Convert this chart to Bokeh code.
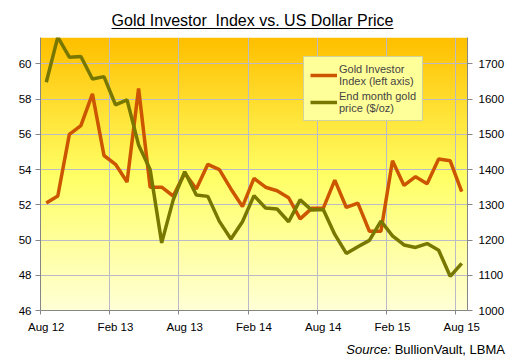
import numpy as np
from bokeh.plotting import figure
from bokeh.layouts import column
from bokeh.models import (Range1d, LinearAxis, FixedTicker, Legend, LegendItem, Div)
from bokeh.embed import file_html
from bokeh.resources import INLINE

# ---- data -------------------------------------------------------------
month_index = list(range(37))  # Aug 2012 ... Aug 2015, monthly
investor_index = [52.1, 52.5, 56.0, 56.5, 58.3, 54.8, 54.3, 53.3, 58.6, 53.0,
                  53.0, 52.5, 53.8, 52.9, 54.3, 54.0, 52.9, 51.9, 53.5, 53.0,
                  52.8, 52.4, 51.2, 51.8, 51.8, 53.4, 51.85, 52.1, 50.5, 50.5,
                  54.5, 53.1, 53.6, 53.2, 54.6, 54.5, 52.75]
gold_price = [1648, 1776, 1719, 1721, 1657, 1664, 1584, 1598, 1470, 1400,
              1192, 1314, 1394, 1328, 1324, 1253, 1203, 1252, 1326, 1291,
              1288, 1252, 1314, 1285, 1287, 1216, 1162, 1181, 1199, 1254,
              1212, 1186, 1179, 1190, 1171, 1097, 1134]
tick_labels = ["Aug 12", "Feb 13", "Aug 13", "Feb 14", "Aug 14", "Feb 15", "Aug 15"]
left_ticks = [46, 48, 50, 52, 54, 56, 58, 60]
right_ticks = [1000, 1100, 1200, 1300, 1400, 1500, 1600, 1700]
title_text = "Gold Investor&nbsp; Index vs. US Dollar Price"
source_label = "Source:"
source_text = "BullionVault, LBMA"

FONT = "Liberation Sans"
GRID = "#BBBBC8"
AXIS = "#868686"
ORANGE = "#CC5500"
OLIVE = "#787800"
W = 511

tick_pos = [6 * i for i in range(len(tick_labels))]
boundaries = [t - 0.5 for t in tick_pos]

# ---- title ---------------------------------------------------------------
title_div = Div(
    text=(f'<div style="width:{W - 6}px; padding-top:12px; text-align:center; '
          f'font-family:\'{FONT}\'; font-size:16px; line-height:18px; color:black; '
          f'white-space:nowrap;"><span style="text-decoration:underline; '
          f'text-underline-offset:2px;">{title_text}</span></div>'),
    width=W, height=37, margin=0)

# ---- main chart ---------------------------------------------------------
p = figure(width=W, height=301, output_backend="svg", toolbar_location=None,
           x_range=Range1d(-0.5, 36.5), y_range=Range1d(46, 61.5),
           min_border_left=40, min_border_right=44, min_border_top=0,
           min_border_bottom=28, outline_line_color=None,
           border_fill_color="white")
p.extra_y_ranges = {"gold": Range1d(1000, 1775)}

# gradient background of plot area
n = 256
tt = np.linspace(0, 1, n)
stops = np.array([0.0, 0.5, 1.0])
rs = np.interp(tt, stops, [255, 255, 255])
gs = np.interp(tt, stops, [255, 255, 192])
bs = np.interp(tt, stops, [215, 100, 0])
img = np.zeros((n, 2), dtype=np.uint32)
view = img.view(dtype=np.uint8).reshape((n, 2, 4))
view[:, :, 0] = rs[:, None].astype(np.uint8)
view[:, :, 1] = gs[:, None].astype(np.uint8)
view[:, :, 2] = bs[:, None].astype(np.uint8)
view[:, :, 3] = 255
p.image_rgba(image=[img], x=-0.5, y=46, dw=37, dh=15.5, level="image")

p.xgrid.ticker = FixedTicker(ticks=boundaries)
p.ygrid.ticker = FixedTicker(ticks=left_ticks)
p.xgrid.grid_line_color = GRID
p.ygrid.grid_line_color = GRID

xa = p.xaxis[0]
xa.ticker = FixedTicker(ticks=tick_pos, minor_ticks=boundaries)
xa.major_label_overrides = {t: l for t, l in zip(tick_pos, tick_labels)}
xa.major_tick_in = 0
xa.major_tick_out = 0
xa.minor_tick_in = 0
xa.minor_tick_out = 4
xa.minor_tick_line_color = AXIS
xa.axis_line_color = AXIS
xa.major_label_standoff = 6
xa.major_label_text_font = FONT
xa.major_label_text_font_size = "11.5px"
xa.major_label_text_color = "black"

ya = p.yaxis[0]
ya.ticker = FixedTicker(ticks=left_ticks)
ya.major_tick_in = 0
ya.major_tick_out = 5
ya.minor_tick_line_color = None
ya.axis_line_color = AXIS
ya.major_tick_line_color = AXIS
ya.major_label_standoff = 4
ya.major_label_text_font = FONT
ya.major_label_text_font_size = "11.5px"
ya.major_label_text_color = "black"

ra = LinearAxis(y_range_name="gold", ticker=FixedTicker(ticks=right_ticks))
ra.major_tick_in = 0
ra.major_tick_out = 5
ra.minor_tick_line_color = None
ra.axis_line_color = AXIS
ra.major_tick_line_color = AXIS
ra.major_label_standoff = 6
ra.major_label_text_font = FONT
ra.major_label_text_font_size = "11.5px"
ra.major_label_text_color = "black"
p.add_layout(ra, "right")

r1 = p.line(month_index, investor_index, line_color=ORANGE, line_width=3.5)
r2 = p.line(month_index, gold_price, line_color=OLIVE, line_width=3.5,
            y_range_name="gold")

legend = Legend(items=[LegendItem(label="Gold Investor\nIndex (left axis)", renderers=[r1]),
                       LegendItem(label="End month gold\nprice ($/oz)", renderers=[r2])],
                location=(263, 189), background_fill_color="#FFFF99",
                background_fill_alpha=1.0, border_line_color="#A6A6A6",
                label_text_font=FONT, label_text_font_size="11px",
                label_text_line_height=1.27, glyph_width=27, glyph_height=14,
                label_standoff=2, padding=6, spacing=3, margin=0)
p.add_layout(legend, "center")

# ---- source ---------------------------------------------------------------
source_div = Div(
    text=(f'<div style="width:{W - 6}px; padding-top:4px; text-align:right; '
          f'font-family:\'{FONT}\'; font-size:13px; line-height:15px; color:black; '
          f'white-space:nowrap;"><i>{source_label}</i> {source_text}</div>'),
    width=W, height=21, margin=0)

layout = column(title_div, p, source_div, spacing=0)
open("out.html", "w").write(file_html(layout, INLINE))
